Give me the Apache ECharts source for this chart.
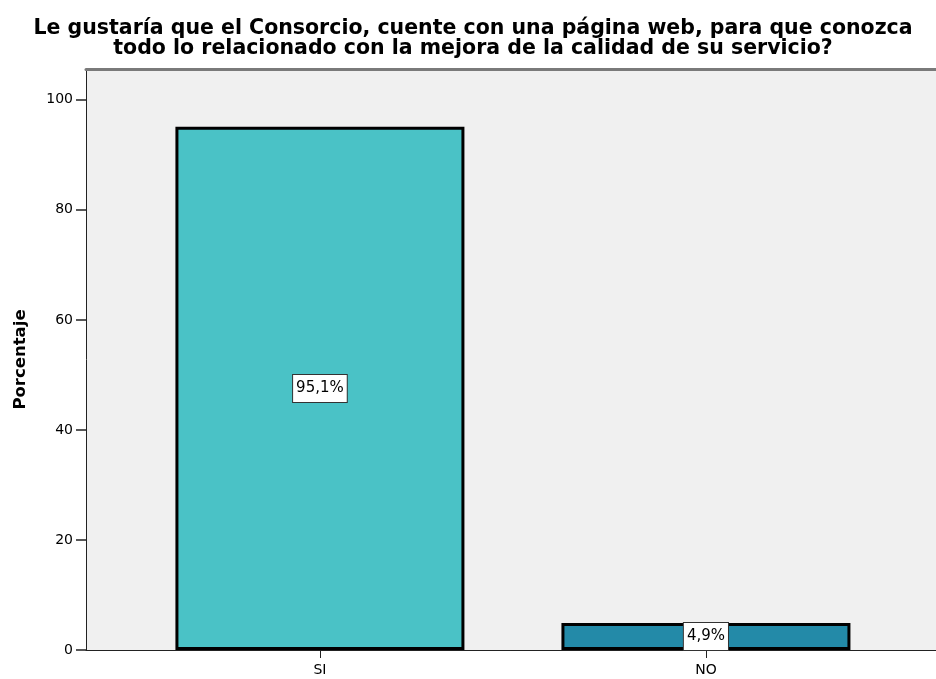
<!DOCTYPE html>
<html>
<head>
<meta charset="utf-8">
<script src="https://cdn.jsdelivr.net/npm/echarts@6/dist/echarts.min.js"></script>
<style>
  html, body { margin: 0; padding: 0; background: #fff; }
  #main { width: 936px; height: 679px; }
</style>
</head>
<body>
<div id="main"></div>
<script>
let categories = ['SI', 'NO'];
let porcentajes = [95.1, 4.9];
let yTicks = [0, 20, 40, 60, 80, 100];
let colores = ['#4AC2C6', '#238AA8'];

let font = '"DejaVu Sans", sans-serif';

function initChart() {
    let chart = echarts.init(document.getElementById('main'));
    let option = {
        animation: false,
        title: {
            text: 'Le gustaría que el Consorcio, cuente con una página web, para que conozca\ntodo lo relacionado con la mejora de la calidad de su servicio?',
            left: 468,
            textAlign: 'center',
            top: 14,
            textStyle: {
                fontFamily: font,
                fontSize: 20.5,
                fontWeight: 'bold',
                color: '#000',
                lineHeight: 20
            }
        },
        grid: {
            left: 86,
            right: 0,
            top: 69,
            bottom: 29,
            show: true,
            backgroundColor: '#F0F0F0',
            borderWidth: 0
        },
        xAxis: [{
            type: 'value',
            min: -0.606,
            max: 1.596,
            splitLine: { show: false },
            axisLine: { show: true, onZero: false, lineStyle: { color: '#222', width: 1 } },
            axisTick: { show: true, customValues: [0, 1], length: 8, lineStyle: { color: '#222' } },
            axisLabel: {
                customValues: [0, 1],
                formatter: v => categories[Math.round(v)] || '',
                fontFamily: font,
                fontSize: 14,
                color: '#000',
                margin: 13
            }
        }, {
            // borde superior del área
            type: 'value',
            position: 'top',
            min: 0,
            max: 1,
            splitLine: { show: false },
            axisLine: { show: true, onZero: false, lineStyle: { color: '#7a7a7a', width: 3 } },
            axisTick: { show: false },
            axisLabel: { show: false }
        }],
        yAxis: {
            type: 'value',
            min: 0,
            max: 105.6,
            name: 'Porcentaje',
            nameLocation: 'middle',
            nameGap: 57,
            nameTextStyle: { fontFamily: font, fontSize: 16.5, fontWeight: 'bold', color: '#000' },
            splitLine: { show: false },
            axisLine: { show: true, onZero: false, lineStyle: { color: '#222', width: 1 } },
            axisTick: { show: true, customValues: yTicks, length: 10, lineStyle: { color: '#222', width: 1.5 } },
            axisLabel: {
                customValues: yTicks,
                fontFamily: font,
                fontSize: 14,
                color: '#000',
                margin: 13
            }
        },
        series: [{
            type: 'bar',
            barWidth: 289,
            data: porcentajes.map((v, i) => ({
                value: [i, v],
                itemStyle: { color: colores[i], borderColor: '#000', borderWidth: 3 }
            })),
            label: {
                show: true,
                position: 'inside',
                formatter: p => p.value[1].toFixed(1).replace('.', ',') + '%',
                fontFamily: font,
                fontSize: 15,
                color: '#000',
                backgroundColor: '#fff',
                borderColor: '#333',
                borderWidth: 1,
                padding: [7, 3, 5, 3]
            }
        }]
    };
    chart.setOption(option);
}
initChart();
</script>
</body>
</html>
